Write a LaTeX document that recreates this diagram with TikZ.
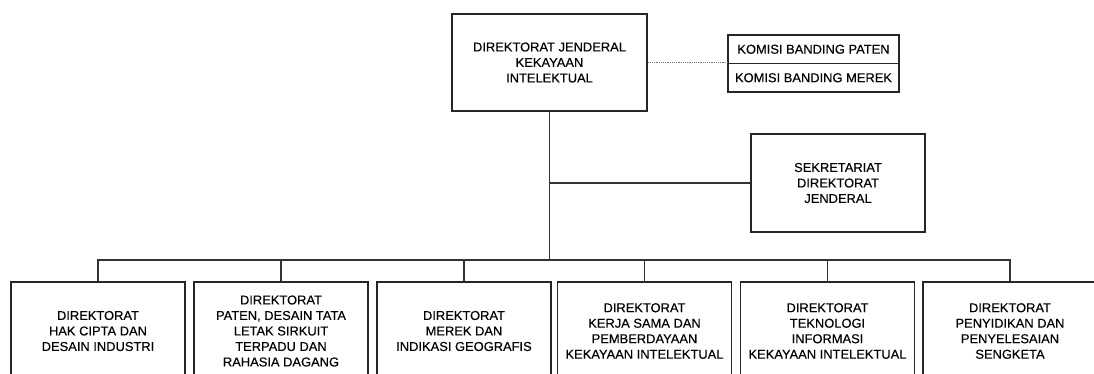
\documentclass[tikz,border=0pt]{standalone}
\usepackage{fontspec}
\setmainfont{Liberation Sans}
\newfontfamily\orgfont{Liberation Sans}[FakeBold=0.25]
\tikzset{
  orgbox/.style={draw=black!85, line width=1.1pt, align=center, inner sep=0pt,
    font=\orgfont\fontsize{12.9pt}{15.5pt}\selectfont, text=black},
  lowbox/.style={orgbox, minimum width=174pt, minimum height=98pt},
  kombox/.style={orgbox, minimum width=171pt, minimum height=28.5pt},
  link/.style={draw=black!80, line width=1.1pt},
  dotlink/.style={draw=black!55, line width=1.2pt, densely dotted}
}
\begin{document}
\begin{tikzpicture}[x=1pt,y=-1pt]
\useasboundingbox (0,0) rectangle (1094,373);
\clip (0,0) rectangle (1094,373);
\fill[white] (0,0) rectangle (1094,373);
\node[orgbox, minimum width=195pt, minimum height=97pt] (top) at (549.5,62.5)
  {DIREKTORAT JENDERAL\\KEKAYAAN\\INTELEKTUAL};
\node[kombox] (kom1) at (813.5,49.25) {KOMISI BANDING PATEN};
\node[kombox] (kom2) at (813.5,77.75) {KOMISI BANDING MEREK};
\node[orgbox, minimum width=174pt, minimum height=98pt] (sek) at (838,183)
  {SEKRETARIAT\\DIREKTORAT\\JENDERAL};
\node[lowbox] (d1) at (98,331) {DIREKTORAT\\HAK CIPTA DAN\\DESAIN INDUSTRI};
\node[lowbox] (d2) at (281,331) {DIREKTORAT\\PATEN, DESAIN TATA\\LETAK SIRKUIT\\TERPADU DAN\\RAHASIA DAGANG};
\node[lowbox] (d3) at (464,331) {DIREKTORAT\\MEREK DAN\\INDIKASI GEOGRAFIS};
\node[lowbox] (d4) at (644.5,331) {DIREKTORAT\\KERJA SAMA DAN\\PEMBERDAYAAN\\KEKAYAAN INTELEKTUAL};
\node[lowbox] (d5) at (827.5,331) {DIREKTORAT\\TEKNOLOGI\\INFORMASI\\KEKAYAAN INTELEKTUAL};
\node[lowbox] (d6) at (1010,331) {DIREKTORAT\\PENYIDIKAN DAN\\PENYELESAIAN\\SENGKETA};
\coordinate (bus) at (549,260);
\draw[dotlink] (top.east) -- (top.east -| kom1.west);
\draw[link] (top.south) -- (top.south |- bus);
\draw[link] (top.south |- sek.west) -- (sek.west);
\draw[link] (d1.north) |- (d6.north |- bus) -- (d6.north);
\foreach \n in {d2,d3,d4,d5}{
  \draw[link] (\n.north) -- (\n.north |- bus);
}
\end{tikzpicture}
\end{document}
